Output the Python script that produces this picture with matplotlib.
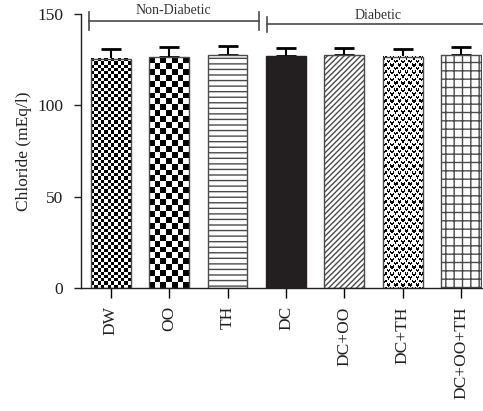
#!/usr/bin/env python3
"""
Chloride levels per treatment group, bar chart with upper error bars
and patterned bars (non-diabetic vs diabetic groups).
"""
import numpy as np
import matplotlib
matplotlib.use("Agg")
import matplotlib.pyplot as plt

groups = ["DW", "OO", "TH", "DC", "DC+OO", "DC+TH", "DC+OO+TH"]
chloride = [125.6, 126.3, 127.6, 127.2, 127.5, 126.7, 127.8]
sem = [5.0, 5.4, 4.9, 4.2, 3.9, 4.3, 4.3]
group_names = ["Non-Diabetic", "Diabetic"]

GRAY = "#4a4a4a"

plt.rcParams["font.family"] = ["Liberation Serif", "DejaVu Serif"]
plt.rcParams["hatch.linewidth"] = 1.0

fig = plt.figure(figsize=(4.83, 4.11), dpi=100)
ax = fig.add_axes([0.168, 0.299, 0.830, 0.667])

x = np.arange(len(groups))
ax.set_xlim(-0.51, 6.36)
ax.set_ylim(0, 150)

faces = ["white", "white", "white", "#231f20", "white", "white", "white"]
hatches = [None, None, "---", None, "//////", None, "++"]
bars = ax.bar(x, chloride, width=0.68, color=faces, edgecolor=GRAY,
              linewidth=1.0, zorder=2)
for b, h in zip(bars, hatches):
    if h:
        b.set_hatch(h)
bars[3].set_edgecolor("#231f20")

ax.errorbar(x, chloride, yerr=[np.zeros(len(sem)), sem], fmt="none",
            ecolor="black", elinewidth=1.5, capsize=7, capthick=2,
            zorder=1)


def tile_fill(bar, tile, cell_px):
    # fill a bar with a repeating bitmap tile, clipped to the bar
    x0, w, h = bar.get_x(), bar.get_width(), bar.get_height()
    p = ax.transData.transform([(x0, 0), (x0 + w, h)])
    wpx, hpx = p[1] - p[0]
    nx = int(round(wpx / cell_px))
    ny = int(round(hpx / cell_px))
    th, tw = tile.shape
    img = np.tile(tile, (ny // th + 2, nx // tw + 2))[:ny, :nx]
    ax.imshow(img, cmap="gray_r", vmin=0, vmax=1, extent=(x0, x0 + w, 0, h),
              aspect="auto", interpolation="nearest", clip_path=bar,
              zorder=2.5)
    bar.set_facecolor("none")
    bar.set_zorder(3)


checker = np.array([[1, 0], [0, 1]])
hearts = np.array([[1, 0, 1, 0, 0, 0],
                   [1, 1, 1, 0, 0, 0],
                   [0, 1, 0, 0, 0, 0],
                   [0, 0, 0, 1, 0, 1],
                   [0, 0, 0, 1, 1, 1],
                   [0, 0, 0, 0, 1, 0]])
tile_fill(bars[0], checker, 3.3)
tile_fill(bars[1], checker, 5.9)
tile_fill(bars[5], hearts, 1.2)
ax.set_xlim(-0.51, 6.36)
ax.set_ylim(0, 150)

# group brackets above the bars
ax.plot([-0.38, 2.53], [146, 146], color=GRAY, lw=1.2, clip_on=False)
for xe in [-0.38, 2.53]:
    ax.plot([xe, xe], [141.5, 151], color=GRAY, lw=1.2, clip_on=False)
ax.plot([2.68, 6.45], [144.7, 144.7], color=GRAY, lw=1.2, clip_on=False)
ax.plot([2.68, 2.68], [140, 148.5], color=GRAY, lw=1.2, clip_on=False)
ax.text(1.07, 152.0, group_names[0], ha="center", va="center", fontsize=10,
        color="#333333")
ax.text(4.58, 149.2, group_names[1], ha="center", va="center", fontsize=10,
        color="#333333")

ax.set_xticks(x)
ax.set_xticklabels(groups, rotation=90, fontsize=12.5, color="#231f20")
ax.set_yticks([0, 50, 100, 150])
ax.tick_params(axis="y", labelsize=12.5, length=5, width=1, pad=8,
               colors="#231f20")
ax.tick_params(axis="x", length=7, width=1, pad=6)
ax.set_ylabel("Chloride (mEq/l)", fontsize=12.5, color="#231f20", labelpad=4)

for side in ["top", "right"]:
    ax.spines[side].set_visible(False)
for side in ["left", "bottom"]:
    ax.spines[side].set_color("#231f20")
    ax.spines[side].set_linewidth(1.0)

fig.savefig("out.png", dpi=100)
